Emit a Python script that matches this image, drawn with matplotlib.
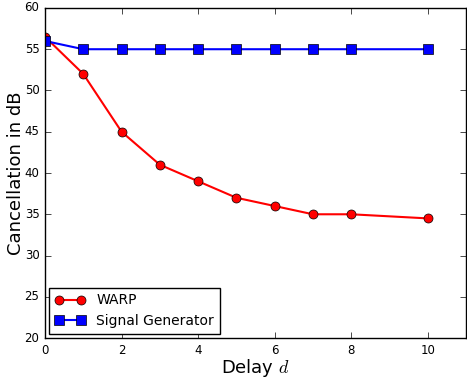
import matplotlib
matplotlib.use("Agg")
import matplotlib.pyplot as plt

delay = [0, 1, 2, 3, 4, 5, 6, 7, 8, 10]
warp_db = [56.5, 52, 45, 41, 39, 37, 36, 35, 35, 34.5]
siggen_db = [56, 55, 55, 55, 55, 55, 55, 55, 55, 55]

plt.style.use("classic")
fig = plt.figure(figsize=(4.67, 3.79), dpi=100)
fig.patch.set_facecolor("white")
ax = fig.add_axes([0.0964, 0.108, 0.9016, 0.871])

ax.plot(delay, warp_db, color="red", marker="o", markersize=6.5,
        linewidth=1.5, markerfacecolor="red", markeredgecolor="black",
        label="WARP")
ax.plot(delay, siggen_db, color="blue", marker="s", markersize=6.5,
        linewidth=1.5, markerfacecolor="blue", markeredgecolor="black",
        label="Signal Generator")

ax.set_xlim(0, 11)
ax.set_ylim(20, 60)
ax.set_xticks([0, 2, 4, 6, 8, 10])
ax.set_yticks(range(20, 61, 5))
ax.tick_params(labelsize=8.5)
ax.set_xlabel("Delay $d$", fontsize=13, labelpad=0)
ax.set_ylabel("Cancellation in dB", fontsize=13, labelpad=0)

leg = ax.legend(loc="lower left", fontsize=10, numpoints=2,
                borderaxespad=0.3, handlelength=2.2)
leg.get_frame().set_linewidth(1.0)

fig.savefig("out.png", dpi=100, facecolor="white")
